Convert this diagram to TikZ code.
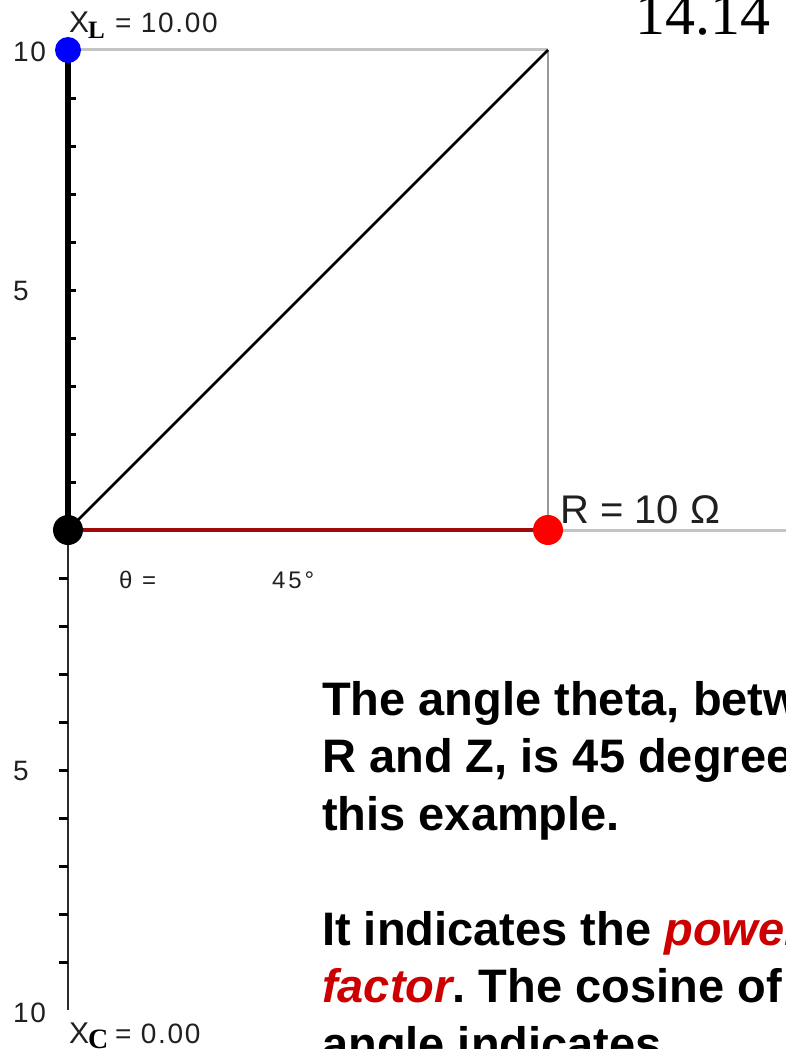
\documentclass[tikz,border=0pt]{standalone}
\usepackage{fontspec}
\setmainfont{Liberation Sans}
\newfontfamily\tnr{Liberation Serif}
\usetikzlibrary{backgrounds}
\definecolor{gridgray}{HTML}{C4C4C4}
\definecolor{vgray}{HTML}{9A9A9A}
\definecolor{darkred}{HTML}{A00A0A}
\definecolor{pfred}{HTML}{CC0000}
\definecolor{axisgray}{HTML}{2A2A2A}
\definecolor{lblgray}{HTML}{202020}
\frenchspacing
\begin{document}
\begin{tikzpicture}[x=1pt,y=-1pt,
  lbl/.style={inner sep=0pt, anchor=base west, text=lblgray, font=\fontsize{28}{30}\selectfont\addfontfeature{LetterSpace=6}},
  small/.style={inner sep=0pt, anchor=base west, text=lblgray, font=\fontsize{24}{26}\selectfont\addfontfeature{LetterSpace=12}},
  subl/.style={inner sep=0pt, anchor=base west, font=\tnr\bfseries\fontsize{25}{27}\selectfont},
  body/.style={inner sep=0pt, anchor=base west, font=\bfseries\fontsize{47}{57}\selectfont},
  dot/.style={circle, inner sep=0pt, minimum size=#1},
  gridline/.style={gridgray, line width=3pt},
  tick/.style={line width=3pt}
]
\useasboundingbox (0,0) rectangle (786,1049);
\clip (0,0) rectangle (786,1049);

% points
\node[dot=26pt, fill=blue] (XL) at (68,50) {};
\node[dot=30pt, fill=black] (O) at (68,530) {};
\node[dot=30pt, fill=red] (R) at (548,530) {};
\coordinate (corner) at (548,50);
\coordinate (rend) at (786,530);
\coordinate (bot) at (68,1010);

\begin{scope}[on background layer]
  % grid / construction lines
  \draw[gridline] (XL.center) -- (corner);
  \draw[vgray, line width=1.5pt] (corner) -- (R.center);
  \draw[gridline] (R.center) -- (rend);
  % impedance line
  \draw[black, line width=2.8pt] (O.center) -- (corner);
  % reactance axis
  \draw[black, line width=6pt] (XL.center) -- (O.center);
  \draw[axisgray, line width=2.5pt] (O.center) -- (bot);
  \foreach \k in {1,...,9} {
    \draw[tick] (68,530-48*\k) -- (76,530-48*\k);
    \draw[tick] (59,530+48*\k) -- (68,530+48*\k);
  }
  % resistance line
  \draw[darkred, line width=4.5pt] (O.center) -- (R.center);
\end{scope}

% axis labels
\node[lbl] (l10t) at (13,62) {10};
\node[lbl] (l5t) at (13,300) {5};
\node[lbl] (l5b) at (13,780) {5};
\node[lbl] (l10b) at (13,1022) {10};

% reactance labels
\node[lbl, font=\fontsize{30}{32}\selectfont] (xlX) at (69,33) {X};
\node[subl] (xlL) at (88,39) {L};
\node[lbl] (xlV) at (115,33) {= 10.00};
\node[lbl, font=\fontsize{30}{32}\selectfont] (xcX) at (69,1043) {X};
\node[subl, font=\tnr\bfseries\fontsize{28}{30}\selectfont] (xcC) at (88,1048) {C};
\node[lbl] (xcV) at (115,1043) {= 0.00};

% impedance magnitude
\node[inner sep=0pt, anchor=base west, font=\tnr\fontsize{60}{62}\selectfont] (zval) at (635,35) {14.14};

% resistance label
\node[inner sep=0pt, anchor=base west, text=lblgray, font=\fontsize{40}{42}\selectfont] (rlab) at (560,523) {R = 10 Ω};

% angle
\node[small] (theta) at (119,588) {θ =};
\node[small] (ang) at (272,588) {45°};

% explanatory text
\node[body] (t1) at (322,715) {The angle theta, between};
\node[body] (t2) at (322,772) {R and Z, is 45 degrees in};
\node[body] (t3) at (322,830) {this example.};
\node[body] (t4) at (322,945) {It indicates the \textcolor{pfred}{\itshape power}};
\node[body] (t5) at (322,1002) {\textcolor{pfred}{\itshape factor}. The cosine of this};
\node[body] (t6) at (322,1060) {angle indicates};
\end{tikzpicture}
\end{document}
